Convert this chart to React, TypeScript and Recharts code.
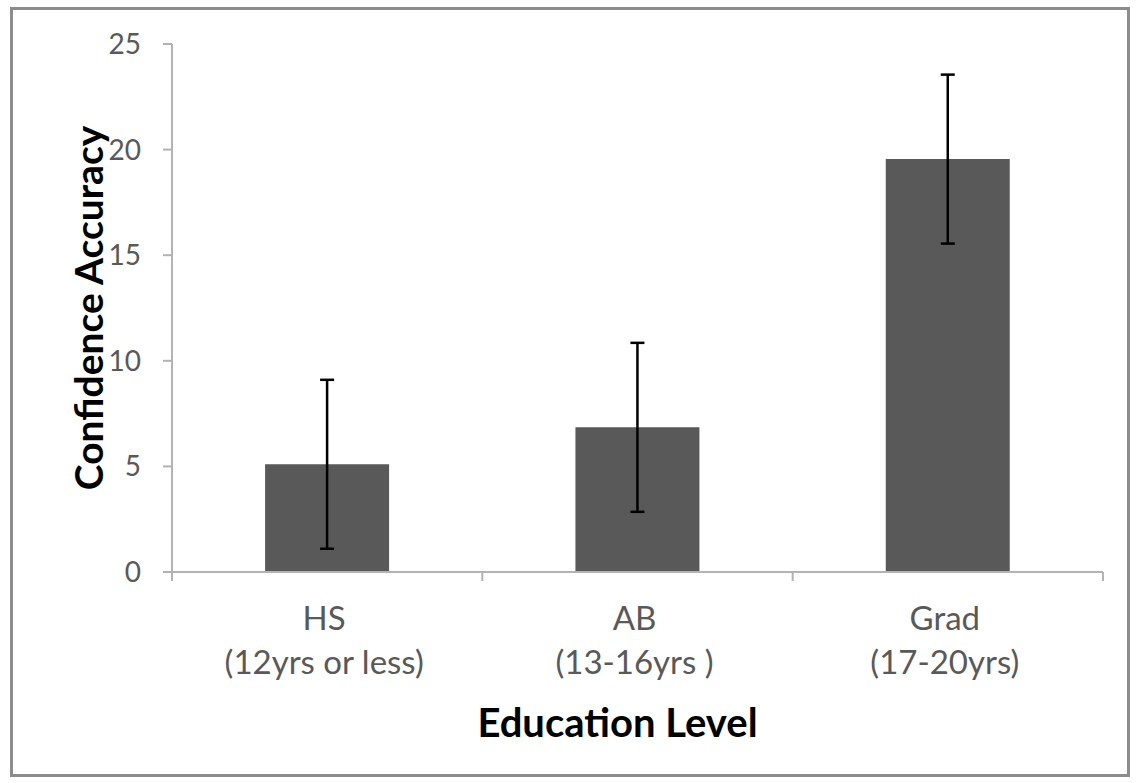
import React from "react";
import { BarChart, Bar, XAxis, YAxis, ErrorBar } from "recharts";

const categories = ["HS", "AB", "Grad"];
const categorySubs = ["(12yrs or less)", "(13-16yrs )", "(17-20yrs)"];
const meanValues = [5.1, 6.85, 19.55];
const errorValues = [4.0, 4.0, 4.0];
const yTicks = [0, 5, 10, 15, 20, 25];

const data = categories.map((c, i) => ({
  name: c,
  sub: categorySubs[i],
  value: meanValues[i],
  err: errorValues[i],
}));

const FONT = "Lato, 'Open Sans', sans-serif";
const TEXT_GRAY = "#595959";
const AXIS_GRAY = "#b3b3b3";

const XTick = (props: any) => {
  const { x, y, payload, index, width, visibleTicksCount } = props;
  const n = visibleTicksCount || categories.length;
  const band = width / n;
  const i = payload.index ?? index;
  return (
    <g>
      <line x1={x - band / 2} x2={x - band / 2} y1={y} y2={y + 9} stroke={AXIS_GRAY} strokeWidth={2} />
      {index === n - 1 && (
        <line x1={x + band / 2} x2={x + band / 2} y1={y} y2={y + 9} stroke={AXIS_GRAY} strokeWidth={2} />
      )}
      <text x={x - 3} y={y + 58} textAnchor="middle" fill={TEXT_GRAY} fontSize={33} fontFamily={FONT}>
        {categories[i]}
      </text>
      <text x={x - 3} y={y + 102} textAnchor="middle" fill={TEXT_GRAY} fontSize={33} fontFamily={FONT}>
        {categorySubs[i]}
      </text>
    </g>
  );
};

const YLabel = (props: any) => {
  const vb = props.viewBox;
  const cx = 88;
  const cy = vb.y + vb.height / 2;
  return (
    <text
      x={cx}
      y={cy}
      transform={`rotate(-90, ${cx}, ${cy})`}
      textAnchor="middle"
      dominantBaseline="central"
      fontSize={39}
      fontWeight="bold"
      fontFamily={FONT}
      fill="#000"
    >
      Confidence Accuracy
    </text>
  );
};

const XLabel = (props: any) => {
  const vb = props.viewBox;
  return (
    <text
      x={vb.x + vb.width / 2 - 20}
      y={vb.y + 150}
      textAnchor="middle"
      dominantBaseline="central"
      fontSize={40}
      fontWeight="bold"
      fontFamily={FONT}
      fill="#000"
    >
      Education Level
    </text>
  );
};

export default function App() {
  return (
    <div style={{ position: "absolute", left: 0, top: 0, width: 1137, height: 783, background: "#fff" }}>
      <div
        style={{
          position: "absolute",
          left: 10,
          top: 7,
          width: 1120,
          height: 770,
          border: "3px solid #8c8c8c",
          boxSizing: "border-box",
          pointerEvents: "none",
        }}
      />
      <BarChart
        width={1137}
        height={783}
        data={data}
        margin={{ top: 44, right: 34, left: 0, bottom: 0 }}
        barCategoryGap="30%"
      >
        <XAxis
          dataKey="name"
          height={211}
          axisLine={{ stroke: AXIS_GRAY, strokeWidth: 2 }}
          tickLine={false}
          tickSize={0}
          tickMargin={0}
          tick={<XTick />}
          interval={0}
          label={<XLabel />}
        />
        <YAxis
          width={172}
          domain={[0, 25]}
          ticks={yTicks}
          interval={0}
          axisLine={{ stroke: AXIS_GRAY, strokeWidth: 2 }}
          tickLine={{ stroke: AXIS_GRAY, strokeWidth: 2 }}
          tickSize={9}
          tickMargin={22}
          tick={{ fill: TEXT_GRAY, fontSize: 28, fontFamily: FONT }}
          label={<YLabel />}
        />
        <Bar dataKey="value" fill="#595959" isAnimationActive={false}>
          <ErrorBar dataKey="err" stroke="#000" strokeWidth={2.5} width={7} direction="y" />
        </Bar>
      </BarChart>
    </div>
  );
}
